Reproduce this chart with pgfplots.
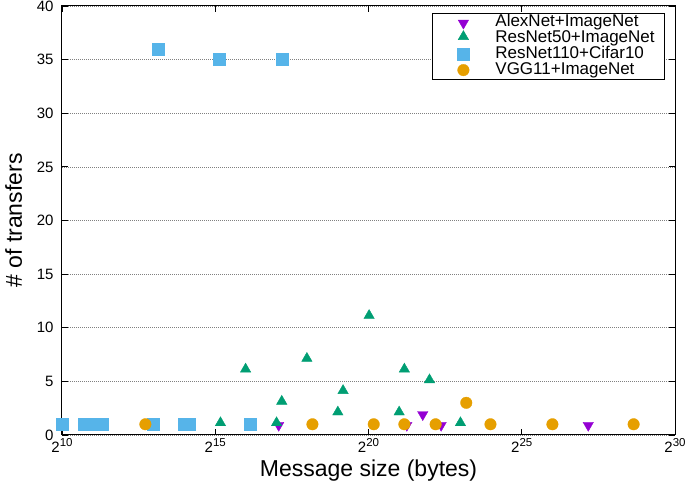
\documentclass[border=0pt]{standalone}
\usepackage{fontspec}
\setmainfont{Liberation Sans}
\usepackage{pgfplots}
\pgfplotsset{compat=1.18}
\definecolor{cAlex}{HTML}{9400D3}
\definecolor{cRfifty}{HTML}{009E73}
\definecolor{cRcifar}{HTML}{56B4E9}
\definecolor{cVGG}{HTML}{E69F00}
\pgfplotsset{myleg/.style={legend image code/.code={\path[draw=none,fill=none] (0pt,-6pt) rectangle (62pt,6pt); \draw[##1] plot coordinates {(31pt,0pt)};}}}
\newcommand{\pw}[1]{2\raisebox{6pt}{\fontsize{11.5}{12}\selectfont #1}}
\newcommand{\lt}[1]{\makebox[168pt][l]{#1}}
\begin{document}
\begin{tikzpicture}
\path[use as bounding box] (-62pt,-52pt) rectangle (623pt,435pt);
\begin{axis}[
  at={(0pt,0pt)}, anchor=south west,
  scale only axis, width=613pt, height=429pt,
  xmin=10, xmax=30, ymin=0, ymax=40,
  xtick={10,15,20,25,30},
  xticklabels={\pw{10},\pw{15},\pw{20},\pw{25},\pw{30}},
  ytick={0,5,...,40},
  /pgf/number format/assume math mode=true,
  tick label style={font=\fontsize{15}{18}\selectfont},
  yticklabel style={xshift=-5pt},
  tick align=inside, major tick length=6pt,
  tick style={black, line width=0.8pt},
  axis line style={line width=1pt},
  ymajorgrids, grid style={gray, line width=0.6pt, dash pattern=on 1pt off 1pt},
  xlabel={Message size (bytes)}, ylabel={\# of transfers},
  label style={font=\fontsize{23}{27}\selectfont},
  xlabel style={at={(axis description cs:0.5,-0.0979)}, anchor=base},
  ylabel style={at={(axis description cs:-0.0653,0.5)}, anchor=base},
  clip=false,
  legend cell align=left,
  legend style={at={(rel axis cs:0.6036,0.9844)}, anchor=north west, draw=black, fill=white, line width=0.8pt, inner xsep=0pt, inner ysep=1pt, font=\fontsize{17}{16}\selectfont, nodes={inner xsep=1pt, inner ysep=0.5pt, text height=11.5pt, text depth=3.5pt}},
]
\addplot[only marks, mark=triangle*, mark size=6pt, mark options={yshift=-1pt, rotate=180, fill=cAlex, draw=cAlex}, line width=0.4pt, myleg] coordinates {
(17.07,1) (21.25,1) (21.77,2) (22.37,1) (27.17,1)};
\addlegendentry{\lt{AlexNet+ImageNet}}
\addplot[only marks, mark=triangle*, mark size=6pt, mark options={yshift=1.5pt, fill=cRfifty, draw=cRfifty}, line width=0.4pt, myleg] coordinates {
(15.17,1) (15.99,6) (17.0,1) (17.17,3) (17.99,7) (19.0,2) (19.17,4) (20.02,11) (21.0,2) (21.17,6) (21.99,5) (23.0,1)};
\addlegendentry{\lt{ResNet50+ImageNet}}
\addplot[only marks, mark=square*, mark size=6pt, mark options={fill=cRcifar, draw=cRcifar}, line width=0.3pt, myleg] coordinates {
(10.0,1) (10.72,1) (11.01,1) (11.31,1) (12.98,1) (13.14,36) (14.0,1) (14.15,1) (15.14,35) (16.15,1) (17.17,35)};
\addlegendentry{\lt{ResNet110+Cifar10}}
\addplot[only marks, mark=*, mark size=5.8pt, mark options={fill=cVGG, draw=cVGG}, line width=0.3pt, myleg] coordinates {
(12.72,1) (18.17,1) (20.17,1) (21.17,1) (22.19,1) (23.19,3) (23.98,1) (26.0,1) (28.65,1)};
\addlegendentry{\lt{VGG11+ImageNet}}
\draw[black, line width=1pt] (rel axis cs:0,0) rectangle (rel axis cs:1,1);
\end{axis}
\end{tikzpicture}
\end{document}
